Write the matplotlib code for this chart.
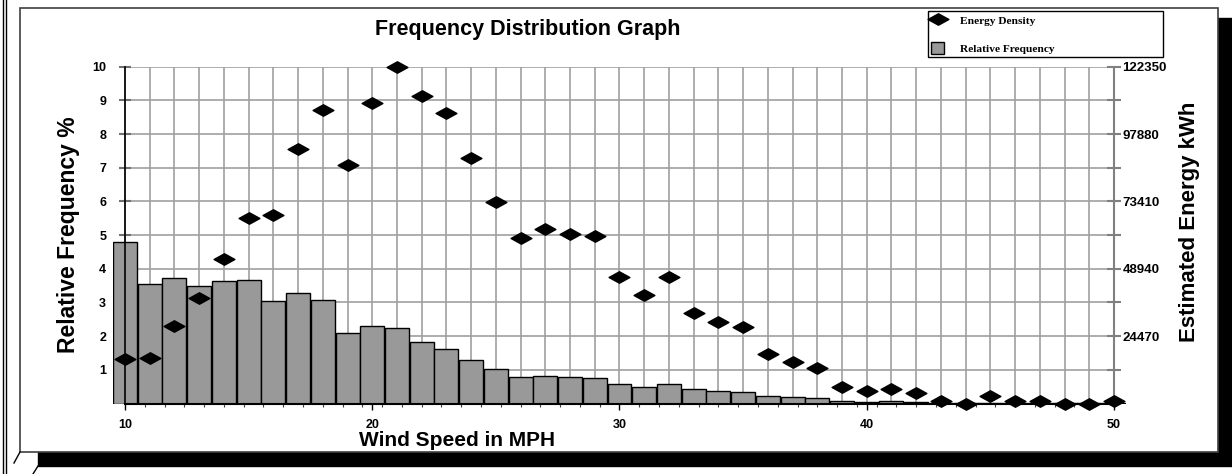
import numpy as np
import matplotlib
matplotlib.use("Agg")
import matplotlib.pyplot as plt
from matplotlib.path import Path
from matplotlib.patches import Rectangle, Patch
from matplotlib.lines import Line2D

plt.rcParams['font.family'] = ['Liberation Sans', 'DejaVu Sans']

# wind speed bins (mph)
speed = np.arange(10, 51)

# relative frequency in %
rel_freq = [4.8, 3.55, 3.73, 3.49, 3.64, 3.67, 3.03, 3.28, 3.06, 2.08,
            2.30, 2.24, 1.82, 1.62, 1.29, 1.03, 0.80, 0.82, 0.78, 0.75,
            0.57, 0.49, 0.57, 0.42, 0.38, 0.35, 0.23, 0.19, 0.15, 0.08,
            0.05, 0.06, 0.04, 0.02, 0.01, 0.02, 0.01, 0.01, 0.01, 0.01,
            0.01]

# estimated energy in kWh
energy = [16270, 16640, 28140, 38420, 52490, 67290, 68390, 92620, 106440, 86500,
          109260, 122350, 111830, 105710, 89070, 73170, 60070, 63380, 61540, 60810,
          46000, 39400, 46000, 33030, 29730, 27900, 18110, 15170, 12720, 6120,
          4400, 5380, 3670, 860, 0, 2690, 860, 860, 0, 0,
          860]

energy_ticks = [24470, 48940, 73410, 97880, 122350]
freq_ticks = [1, 2, 3, 4, 5, 6, 7, 8, 9, 10]
speed_labels = [10, 20, 30, 40, 50]

W, H = 1232, 474
fig = plt.figure(figsize=(W / 100, H / 100), dpi=100)

# background frame drawn in pixel space
bg = fig.add_axes([0, 0, 1, 1], zorder=-5)
bg.set_xlim(0, W)
bg.set_ylim(H, 0)
bg.axis('off')
bg.add_patch(Rectangle((38, 18), 1194, 448, color='black'))
bg.add_patch(Rectangle((20, 8), 1198, 444, facecolor='white', edgecolor='#404040', lw=1.2))
bg.plot([3, 3], [0, H], color='black', lw=1)
bg.plot([5.5, 5.5], [0, H], color='black', lw=1)
bg.plot([20, 14], [452, 463], color='black', lw=1)
bg.plot([38, 33], [466, 474], color='black', lw=1)

def px(x0, y0, x1, y1):
    return [x0 / W, 1 - y1 / H, (x1 - x0) / W, (y1 - y0) / H]

x_lo, x_hi = 9.5, 50.5
ppu = (1114 - 125) / 40.0
ax = fig.add_axes(px(125 - 0.5 * ppu, 66.7, 1114 + 0.5 * ppu, 403.5))
ax.patch.set_alpha(0)
ax.set_xlim(x_lo, x_hi)
ax.set_ylim(0, 10)

grid_c = '#a0a0a0'
ax.vlines(speed, 0, 10, color=grid_c, lw=1.2, zorder=1)
ax.hlines(freq_ticks, 10, 50, color=grid_c, lw=1.2, zorder=1)

ax.bar(speed, rel_freq, width=0.97, color='#999999', edgecolor='black', lw=1, zorder=2)

for s in ['top', 'right']:
    ax.spines[s].set_visible(False)
ax.spines['left'].set_position(('data', 10))
ax.spines['left'].set_color('black')
ax.spines['left'].set_linewidth(1.2)
ax.spines['left'].set_zorder(3)
ax.spines['bottom'].set_bounds(10, 50)
ax.spines['bottom'].set_linewidth(1.5)
ax.spines['bottom'].set_zorder(3)

ax.set_yticks(freq_ticks)
ax.set_yticklabels([str(v) for v in freq_ticks], fontweight='bold', fontsize=9)
ax.tick_params(axis='y', direction='inout', length=9, width=1.5, color='#707070', pad=9)

ax.set_xticks(speed_labels)
ax.set_xticklabels([str(v) for v in speed_labels], fontweight='bold', fontsize=9)
ax.set_xticks(np.arange(10, 50.01, 0.8), minor=True)
ax.tick_params(axis='x', which='major', direction='out', length=4, width=1, color='black', pad=7)
ax.tick_params(axis='x', which='minor', direction='out', length=2.5, width=0.8, color='#404040')

ax2 = ax.twinx()
ax2.set_ylim(0, 122350)
for s in ['top', 'left', 'bottom']:
    ax2.spines[s].set_visible(False)
ax2.spines['right'].set_position(('data', 50))
ax2.spines['right'].set_color('#808080')
ax2.spines['right'].set_linewidth(1.5)
ax2.set_yticks(energy_ticks)
ax2.set_yticklabels([str(v) for v in energy_ticks], fontweight='bold', fontsize=9.5)
ax2.set_yticks([12235 * k for k in (1, 3, 5, 7, 9)], minor=True)
ax2.tick_params(axis='y', which='both', direction='inout', length=10, width=1.5, color='#808080', pad=1)

diamond = Path([(-1, 0), (0, 0.55), (1, 0), (0, -0.55), (-1, 0)],
               [Path.MOVETO, Path.LINETO, Path.LINETO, Path.LINETO, Path.CLOSEPOLY])
ax2.plot(speed, energy, linestyle='none', marker=diamond, markersize=15,
         color='black', clip_on=False, zorder=5)

fig.text(528 / W, 1 - 29 / H, 'Frequency Distribution Graph', fontsize=15.5,
         fontweight='bold', ha='center', va='center')
fig.text(68 / W, 1 - 235 / H, 'Relative Frequency %', fontsize=16.5,
         fontweight='bold', rotation=90, ha='center', va='center')
fig.text(1190 / W, 1 - 222 / H, 'Estimated Energy kWh', fontsize=16,
         fontweight='bold', rotation=90, ha='center', va='center')
fig.text(457 / W, 1 - 441 / H, 'Wind Speed in MPH', fontsize=15,
         fontweight='bold', ha='center', va='center')

handles = [Line2D([], [], linestyle='none', marker=diamond, markersize=15, color='black'),
           Patch(facecolor='#999999', edgecolor='black', lw=1)]
leg = fig.legend(handles, ['Energy Density', 'Relative Frequency'],
                 loc='upper left', bbox_to_anchor=(928 / W, 1 - 11 / H, 235 / W, 0.0),
                 mode='expand', borderaxespad=0, frameon=True, fancybox=False,
                 framealpha=1, edgecolor='black', borderpad=0.3, labelspacing=1.3,
                 handlelength=1.1, handleheight=1.3, handletextpad=1.4,
                 prop={'family': 'Liberation Serif', 'weight': 'bold', 'size': 8.2})
leg.get_frame().set_linewidth(1)

fig.savefig('out.png', dpi=100)
